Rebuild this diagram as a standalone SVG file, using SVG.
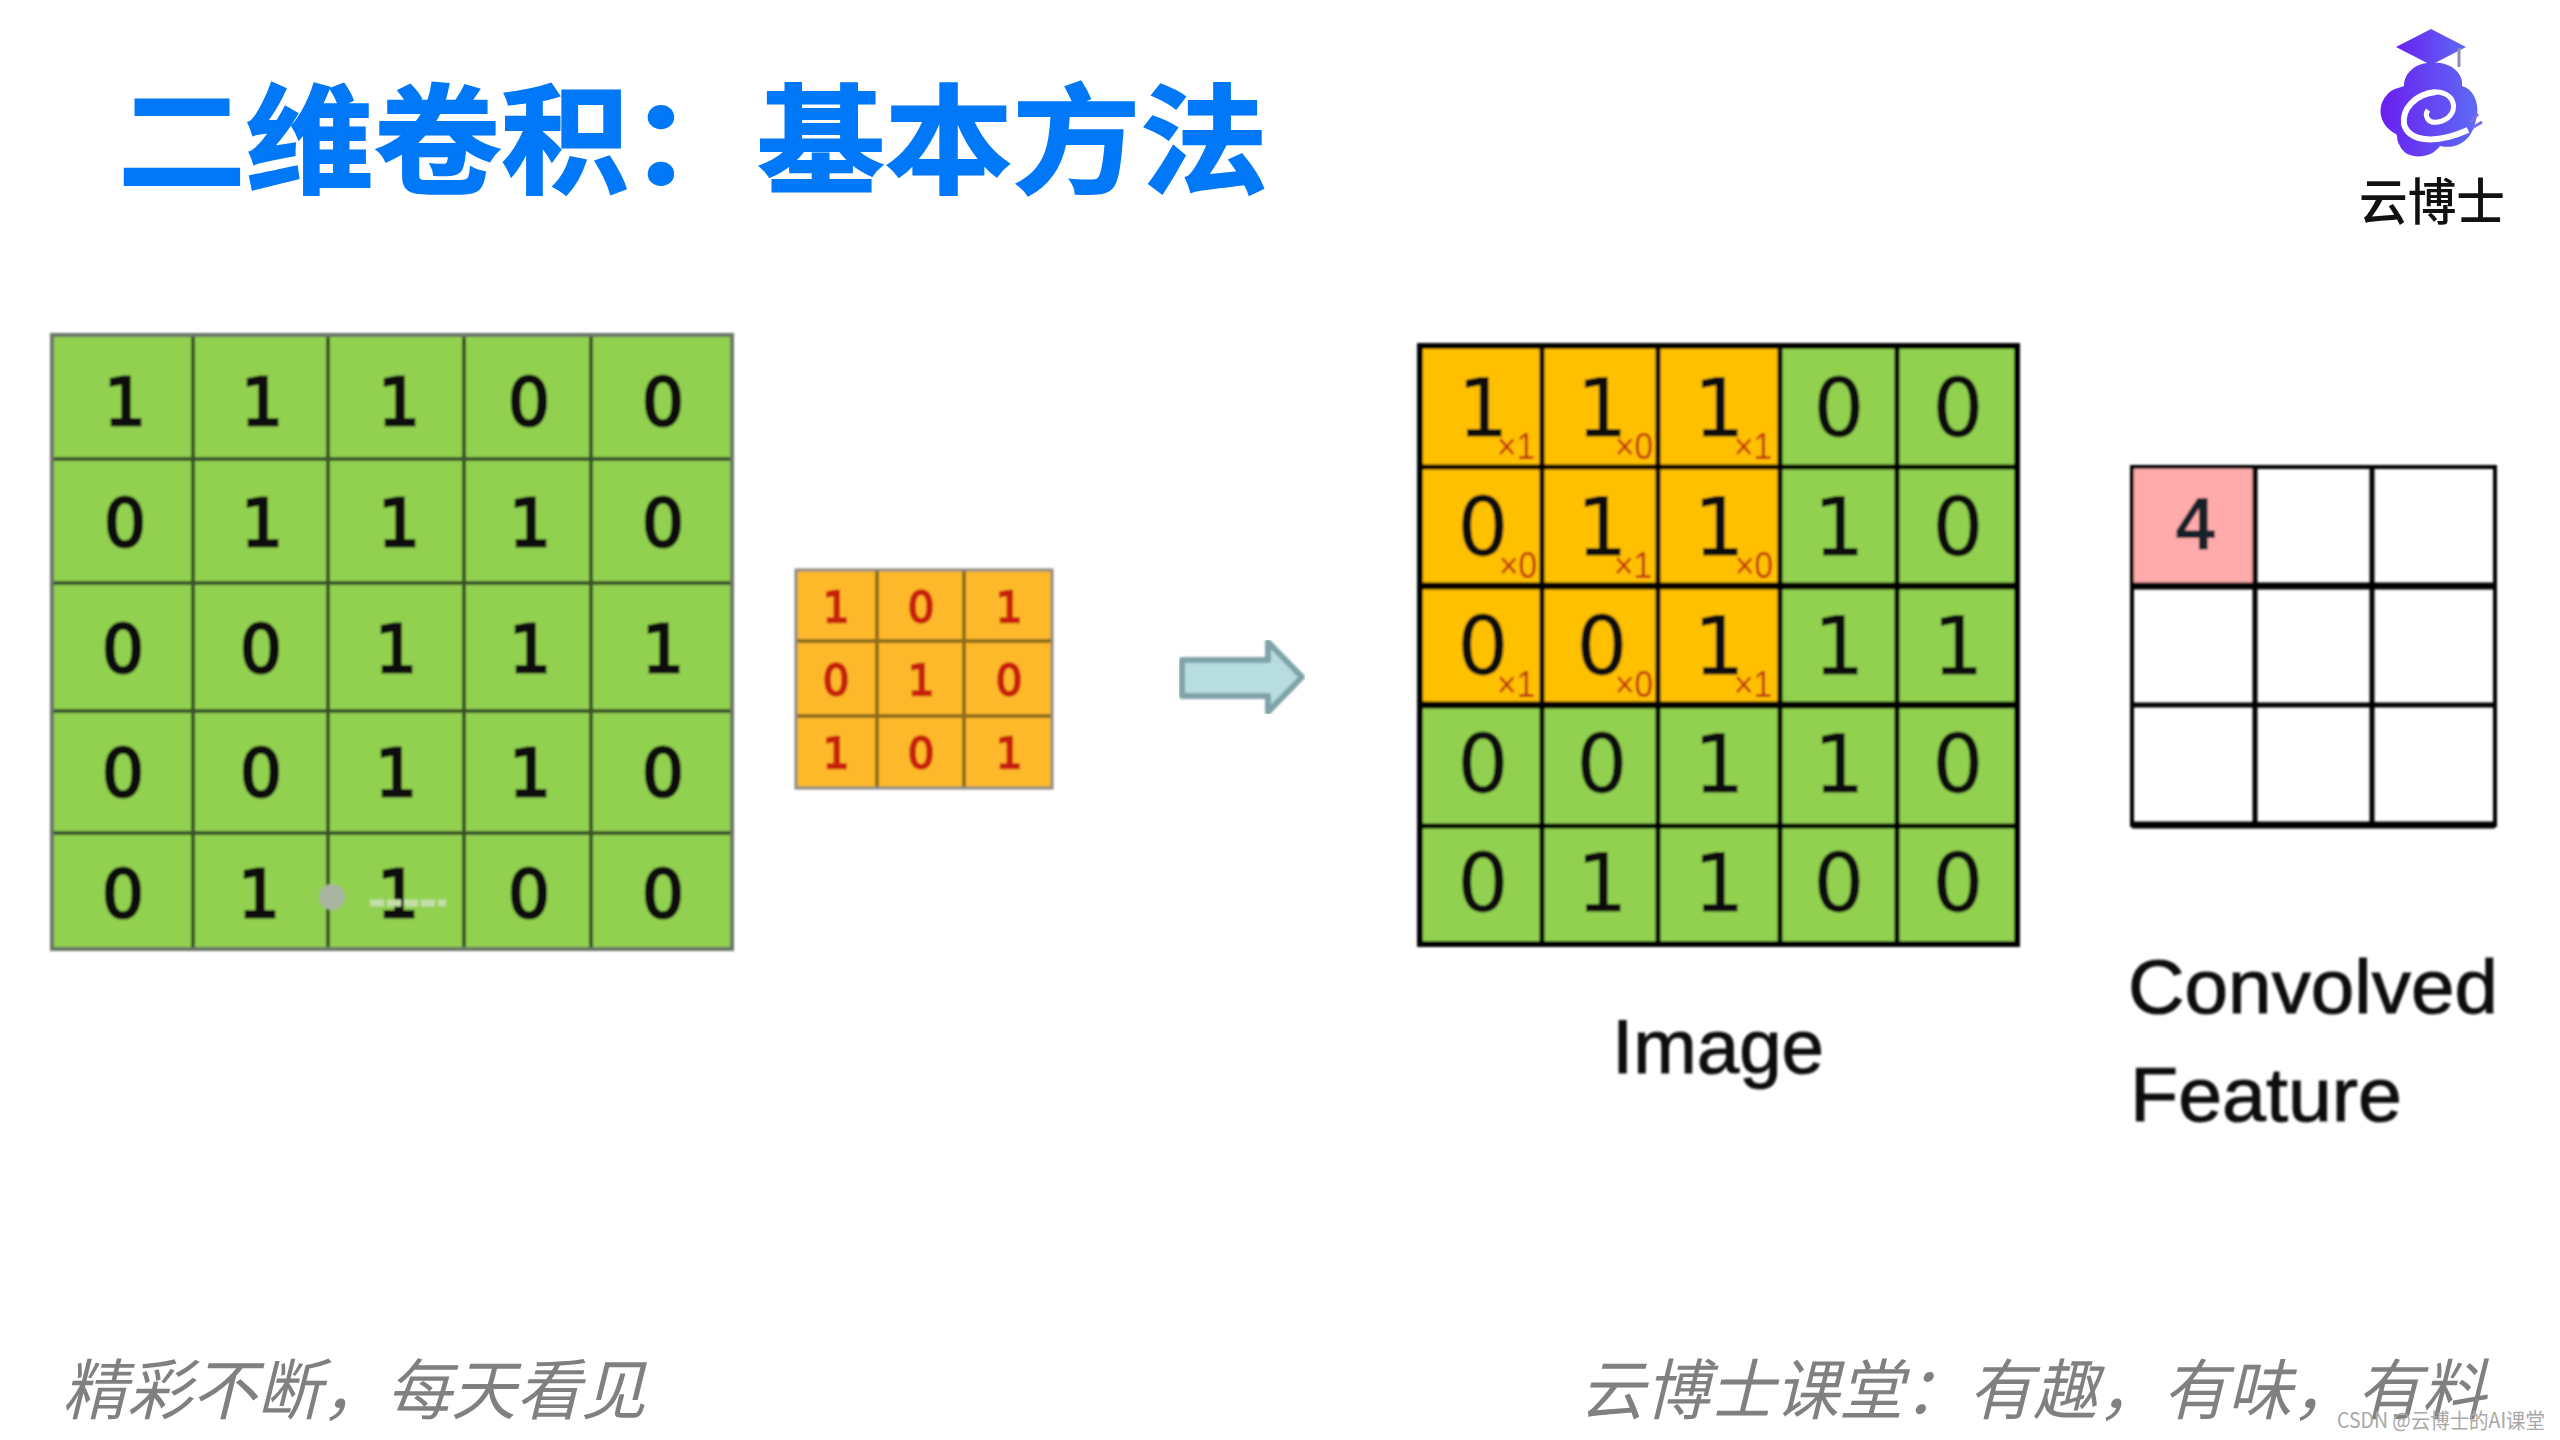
<svg xmlns="http://www.w3.org/2000/svg" width="2560" height="1440" viewBox="0 0 2560 1440">
<defs>
<style>
text{font-family:"DejaVu Sans","Noto Sans CJK SC",sans-serif}
.cjk{font-family:"Noto Sans CJK SC",sans-serif}
.title{font-size:118px;font-weight:700;fill:#0078f7;stroke:#0078f7;stroke-width:2px}
.foot{font-size:66px;fill:#808080;font-style:italic;font-weight:400}
.d1{font-size:66px;fill:#111;stroke:#111;stroke-width:3px;text-anchor:middle}
.d2{font-size:42px;fill:#c8200f;stroke:#c8200f;stroke-width:2.4px;text-anchor:middle}
.d3{font-size:80px;fill:#111;stroke:#111;stroke-width:.8px;text-anchor:middle}
.d4{font-size:68px;fill:#16202c;stroke:#16202c;stroke-width:2px;text-anchor:middle}
.m{font-family:"Liberation Sans",sans-serif;font-size:36px;fill:#c0300a;text-anchor:end}
.lab{font-family:"Liberation Sans",sans-serif;font-size:76px;fill:#111;stroke:#111;stroke-width:1px}
.gl1{stroke:#37522a;stroke-width:4;fill:none}
.go1{stroke:#6b7566;stroke-width:4;fill:none}
.gl2{stroke:#8f6d1c;stroke-width:4;fill:none}
.gl3{stroke:#000;stroke-width:5;fill:none}
</style>
<filter id="soft" x="-2%" y="-2%" width="104%" height="104%"><feGaussianBlur stdDeviation="1.1"/></filter>
<linearGradient id="lg" x1="0" y1="0" x2="1" y2="0"><stop offset="0" stop-color="#6a1ff0"/><stop offset="1" stop-color="#5d6bf5"/></linearGradient>
</defs>
<rect width="2560" height="1440" fill="#fff"/>

<g id="title"><text class="cjk title" x="118" y="184" textLength="1150" lengthAdjust="spacingAndGlyphs">二维卷积：基本方法</text></g>

<g id="logo">
<polygon points="2396,47 2431,29 2466,47 2431,65" fill="url(#lg)"/>
<path d="M2459 48V67" stroke="#8d8db5" stroke-width="3"/>
<path d="M2428 63C2448 60 2464 72 2462 86C2476 90 2480 108 2476 120C2472 140 2458 150 2440 146C2430 160 2406 160 2400 146C2396 140 2398 136 2396 134C2380 126 2376 108 2386 96C2392 88 2400 88 2404 86C2404 74 2414 64 2428 63Z" fill="url(#lg)"/>
<path d="M2436 92C2414 94 2402 110 2404 124C2408 140 2432 146 2468 130" fill="none" stroke="#fff" stroke-width="6"/>
<path d="M2436 92C2458 92 2460 118 2438 122C2428 124 2424 116 2428 110" fill="none" stroke="#fff" stroke-width="5"/>
<path d="M2470 122l8 -8M2472 128l10 -6" stroke="#7a6cf0" stroke-width="3" fill="none"/>
<text class="cjk" x="2359" y="220" font-size="50" font-weight="500" fill="#111" textLength="146" lengthAdjust="spacingAndGlyphs">云博士</text>
</g>

<g id="input-grid" filter="url(#soft)">
<rect x="52" y="335" width="680" height="614" fill="#92d050"/>
<path class="gl1" d="M193 335V949M328 335V949M464 335V949M591 335V949M52 459H732M52 583H732M52 711H732M52 833H732"/>
<rect class="go1" x="52" y="335" width="680" height="614"/>
<text class="d1" x="125" y="425">1</text><text class="d1" x="262" y="425">1</text><text class="d1" x="399" y="425">1</text><text class="d1" x="529" y="425">0</text><text class="d1" x="663" y="425">0</text>
<text class="d1" x="125" y="546">0</text><text class="d1" x="262" y="546">1</text><text class="d1" x="399" y="546">1</text><text class="d1" x="530" y="546">1</text><text class="d1" x="663" y="546">0</text>
<text class="d1" x="123" y="672">0</text><text class="d1" x="261" y="672">0</text><text class="d1" x="396" y="672">1</text><text class="d1" x="530" y="672">1</text><text class="d1" x="663" y="672">1</text>
<text class="d1" x="123" y="796">0</text><text class="d1" x="261" y="796">0</text><text class="d1" x="396" y="796">1</text><text class="d1" x="530" y="796">1</text><text class="d1" x="663" y="796">0</text>
<text class="d1" x="123" y="917">0</text><text class="d1" x="259" y="917">1</text><text class="d1" x="398" y="917">1</text><text class="d1" x="529" y="917">0</text><text class="d1" x="663" y="917">0</text>
<circle cx="332" cy="897" r="13" fill="#a9b5a0"/>
<path d="M370 903H446" stroke="#c4dea8" stroke-width="7" stroke-dasharray="14 3"/>
</g>

<g id="kernel-grid" filter="url(#soft)">
<rect x="796" y="570" width="256" height="218" fill="#fdb92a"/>
<path class="gl2" d="M877 570V788M964 570V788M796 641H1052M796 716H1052"/>
<rect x="796" y="570" width="256" height="218" fill="none" stroke="#8d8a80" stroke-width="3"/>
<text class="d2" x="836" y="622">1</text><text class="d2" x="921" y="622">0</text><text class="d2" x="1009" y="622">1</text>
<text class="d2" x="836" y="695">0</text><text class="d2" x="921" y="695">1</text><text class="d2" x="1009" y="695">0</text>
<text class="d2" x="836" y="768">1</text><text class="d2" x="921" y="768">0</text><text class="d2" x="1009" y="768">1</text>
</g>

<g id="connectors" filter="url(#soft)">
<polygon points="1182,660 1268,660 1268,642 1302,677 1268,712 1268,696 1182,696" fill="#b7dde0" stroke="#7fa3a8" stroke-width="6" stroke-linejoin="round"/>
</g>

<g id="image-grid" filter="url(#soft)">
<rect x="1420" y="346" width="597" height="598" fill="#92d050"/>
<rect x="1420" y="346" width="360" height="359" fill="#ffc000"/>
<path class="gl3" d="M1542 346V944M1658 346V944M1780 346V944M1897 346V944M1420 467H2017M1420 826H2017"/>
<path d="M1420 586H2017M1420 705H2017" stroke="#000" stroke-width="7"/>
<rect x="1420" y="346" width="597" height="598" fill="none" stroke="#000" stroke-width="6"/>
<text class="d3" x="1483" y="436">1</text><text class="d3" x="1602" y="436">1</text><text class="d3" x="1719" y="436">1</text><text class="d3" x="1839" y="436">0</text><text class="d3" x="1958" y="436">0</text>
<text class="d3" x="1483" y="555">0</text><text class="d3" x="1602" y="555">1</text><text class="d3" x="1719" y="555">1</text><text class="d3" x="1839" y="555">1</text><text class="d3" x="1958" y="555">0</text>
<text class="d3" x="1483" y="674">0</text><text class="d3" x="1602" y="674">0</text><text class="d3" x="1719" y="674">1</text><text class="d3" x="1839" y="674">1</text><text class="d3" x="1958" y="674">1</text>
<text class="d3" x="1483" y="792">0</text><text class="d3" x="1602" y="792">0</text><text class="d3" x="1719" y="792">1</text><text class="d3" x="1839" y="792">1</text><text class="d3" x="1958" y="792">0</text>
<text class="d3" x="1483" y="911">0</text><text class="d3" x="1602" y="911">1</text><text class="d3" x="1719" y="911">1</text><text class="d3" x="1839" y="911">0</text><text class="d3" x="1958" y="911">0</text>
<text class="m" x="1535" y="459" textLength="38" lengthAdjust="spacingAndGlyphs">×1</text><text class="m" x="1653" y="459" textLength="38" lengthAdjust="spacingAndGlyphs">×0</text><text class="m" x="1772" y="459" textLength="38" lengthAdjust="spacingAndGlyphs">×1</text>
<text class="m" x="1537" y="578" textLength="38" lengthAdjust="spacingAndGlyphs">×0</text><text class="m" x="1652" y="578" textLength="38" lengthAdjust="spacingAndGlyphs">×1</text><text class="m" x="1773" y="578" textLength="38" lengthAdjust="spacingAndGlyphs">×0</text>
<text class="m" x="1535" y="697" textLength="38" lengthAdjust="spacingAndGlyphs">×1</text><text class="m" x="1653" y="697" textLength="38" lengthAdjust="spacingAndGlyphs">×0</text><text class="m" x="1772" y="697" textLength="38" lengthAdjust="spacingAndGlyphs">×1</text>
</g>

<g id="feature-grid" filter="url(#soft)">
<rect x="2134" y="468" width="122" height="118" fill="#ffabab"/>
<path class="gl3" d="M2255 467V825M2372 467V825M2132 705H2495"/>
<path d="M2132 586H2495" stroke="#000" stroke-width="7"/>
<path d="M2132 825H2495" stroke="#000" stroke-width="7"/>
<rect x="2132" y="467" width="363" height="358" fill="none" stroke="#000" stroke-width="4"/>
<text class="d4" x="2196" y="549">4</text>
</g>

<g id="labels" filter="url(#soft)">
<text class="lab" x="1612" y="1073" textLength="212" lengthAdjust="spacingAndGlyphs">Image</text>
<text class="lab" x="2128" y="1013" textLength="370" lengthAdjust="spacingAndGlyphs">Convolved</text>
<text class="lab" x="2130" y="1121" textLength="272" lengthAdjust="spacingAndGlyphs">Feature</text>
</g>

<g id="footer">
<text class="cjk foot" x="62" y="1414" textLength="584" lengthAdjust="spacingAndGlyphs">精彩不断，每天看见</text>
<text class="cjk foot" x="1580" y="1414" textLength="906" lengthAdjust="spacingAndGlyphs">云博士课堂：有趣，有味，有料</text>
<text class="cjk" x="2337" y="1428" font-size="21" fill="#a8a8a8" textLength="208" lengthAdjust="spacingAndGlyphs">CSDN @云博士的AI课堂</text>
</g>
</svg>
